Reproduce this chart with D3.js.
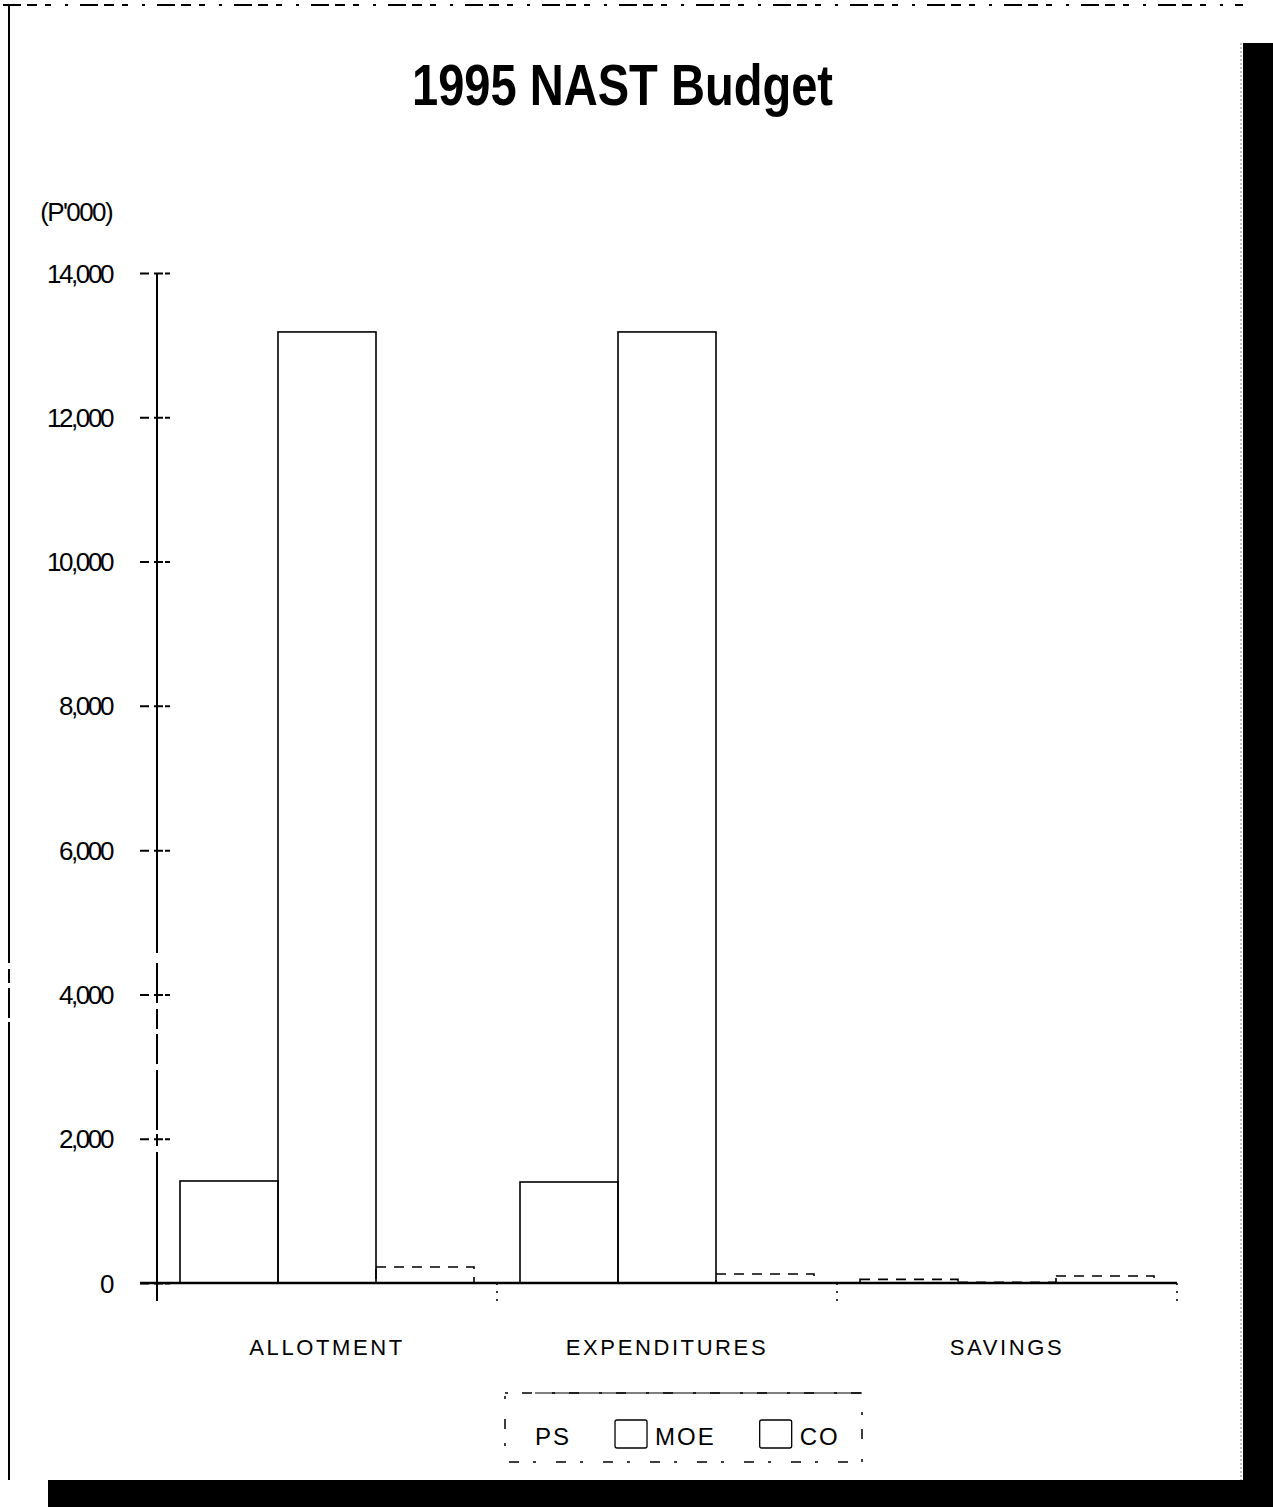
<!DOCTYPE html>
<html lang="en">
	<head>
		<meta charset="utf-8">
		<title>1995 NAST Budget</title>
		<script src="https://d3js.org/d3.v7.min.js"></script>
		<style type="text/css">
body {
    margin: 0;
    background: #fff;
}
.tick-label {
    font-family: "Liberation Sans", Arial, sans-serif;
    font-size: 26px;
    letter-spacing: -2.4px;
}
.cat-label {
    font-family: "Liberation Sans", Arial, sans-serif;
    font-size: 22px;
    letter-spacing: 2.6px;
}
.legend-text {
    font-family: "Liberation Sans", Arial, sans-serif;
    font-size: 24px;
    letter-spacing: 2px;
}
		</style>
	</head>

	<body>
		<script type="text/javascript">

			// chart values (P'000)
			var categories = ["ALLOTMENT", "EXPENDITURES", "SAVINGS"];
			var series = ["PS", "MOE", "CO"];
			var psValues = [1414, 1400, 50];
			var moeValues = [13183, 13183, 10];
			var coValues = [222, 125, 97];
			var yTicks = [0, 2000, 4000, 6000, 8000, 10000, 12000, 14000];

			//Width and height
			var w = 1273;
			var h = 1507;

			var svg = d3.select("body")
						.append("svg")
						.attr("width", w)
						.attr("height", h);

			// page frame and scan shadow
			svg.append("line")
				.attr("x1", 9).attr("y1", 5)
				.attr("x2", 9).attr("y2", 1480)
				.attr("stroke", "#000")
				.attr("stroke-width", 2)
				.attr("stroke-dasharray", "950,0,8,6,14,5,30,4");
			svg.append("line")
				.attr("x1", 3).attr("y1", 5)
				.attr("x2", 1243).attr("y2", 5)
				.attr("stroke", "#000")
				.attr("stroke-width", 2)
				.attr("stroke-dasharray", "18,6,10,8,6,14,3,12");
			svg.append("line")
				.attr("x1", 1241).attr("y1", 43)
				.attr("x2", 1241).attr("y2", 1480)
				.attr("stroke", "#888")
				.attr("stroke-width", 1)
				.attr("stroke-dasharray", "2,2");
			svg.append("rect")
				.attr("x", 1243).attr("y", 43)
				.attr("width", 30).attr("height", h - 43)
				.attr("fill", "#000");
			svg.append("rect")
				.attr("x", 48).attr("y", 1480)
				.attr("width", w - 48).attr("height", h - 1480)
				.attr("fill", "#000");

			// title (condensed bold)
			svg.append("text")
				.attr("x", 412)
				.attr("y", 105)
				.attr("textLength", 421)
				.attr("lengthAdjust", "spacingAndGlyphs")
				.style("font-family", "'Liberation Sans', Arial, sans-serif")
				.style("font-weight", "bold")
				.style("font-size", "58px")
				.text("1995 NAST Budget");

			// scales
			var y = d3.scaleLinear()
				.domain([0, 14000])
				.range([1283, 273]);

			var x0 = d3.scaleBand()
				.domain(categories)
				.range([157, 1177]);

			var x1 = d3.scaleBand()
				.domain(series)
				.range([23, x0.bandwidth() - 23]);

			// unit label
			svg.append("text")
				.attr("class", "tick-label")
				.attr("x", 112)
				.attr("y", 221)
				.attr("text-anchor", "end")
				.style("letter-spacing", "-1.6px")
				.text("(P'000)");

			// y axis
			var yAxis = d3.axisLeft(y)
				.tickValues(yTicks)
				.tickSizeInner(17)
				.tickSizeOuter(0)
				.tickPadding(28)
				.tickFormat(d3.format(","));

			var gy = svg.append("g")
				.attr("transform", "translate(157,0)")
				.call(yAxis);

			gy.select(".domain").remove();
			gy.selectAll(".tick line")
				.attr("stroke-width", 2)
				.attr("stroke-dasharray", "3,5,9");
			gy.selectAll(".tick")
				.append("line")
				.attr("x1", 0).attr("x2", 13)
				.attr("stroke", "#000")
				.attr("stroke-width", 2)
				.attr("stroke-dasharray", "6,2");
			gy.selectAll(".tick text")
				.attr("class", "tick-label")
				.attr("dy", "0.35em");
			gy.attr("font-size", null).attr("font-family", null);

			// axis spine
			svg.append("line")
				.attr("x1", 157).attr("y1", y(14000))
				.attr("x2", 157).attr("y2", y(0) + 18)
				.attr("stroke", "#000")
				.attr("stroke-width", 2)
				.attr("stroke-dasharray", "680,10,40,6,20,5,30,6,60,4,12,6");

			// bars
			var rows = categories.map(function(c, i) {
				return {cat: c, vals: [psValues[i], moeValues[i], coValues[i]]};
			});

			var groups = svg.selectAll(".group")
				.data(rows)
				.enter()
				.append("g")
				.attr("class", "group")
				.attr("transform", function(d) { return "translate(" + x0(d.cat) + ",0)"; });

			groups.selectAll("rect")
				.data(function(d) {
					return d.vals.map(function(v, j) { return {cat: d.cat, key: series[j], value: v}; });
				})
				.enter()
				.append("rect")
				.attr("x", function(d) { return x1(d.key); })
				.attr("y", function(d) { return y(d.value); })
				.attr("width", x1.bandwidth())
				.attr("height", function(d) { return y(0) - y(d.value); })
				.attr("fill", "none")
				.attr("stroke", "#000")
				.attr("stroke-width", 1.6)
				.attr("stroke-dasharray", function(d) {
					// faint, broken outlines on the small bars
					return (d.key == "CO" || d.cat == "SAVINGS") ? "10,8" : null;
				});

			// baseline
			svg.append("line")
				.attr("x1", 140).attr("y1", y(0))
				.attr("x2", 1177).attr("y2", y(0))
				.attr("stroke", "#000")
				.attr("stroke-width", 2.5);

			// category boundary ticks
			svg.selectAll(".cat-tick")
				.data(categories.concat(["end"]))
				.enter()
				.append("line")
				.attr("class", "cat-tick")
				.attr("x1", function(d, i) { return 157 + i * x0.bandwidth(); })
				.attr("x2", function(d, i) { return 157 + i * x0.bandwidth(); })
				.attr("y1", y(0))
				.attr("y2", y(0) + 18)
				.attr("stroke", "#000")
				.attr("stroke-width", 1.5)
				.attr("stroke-dasharray", "2,6");

			// category labels
			svg.selectAll(".cat-label")
				.data(categories)
				.enter()
				.append("text")
				.attr("class", "cat-label")
				.attr("x", function(d) { return x0(d) + x0.bandwidth() / 2; })
				.attr("y", 1355)
				.attr("text-anchor", "middle")
				.text(function(d) { return d; });

			// legend
			var legend = svg.append("g")
				.attr("class", "legend");

			legend.append("rect")
				.attr("x", 505).attr("y", 1393)
				.attr("width", 357).attr("height", 69)
				.attr("fill", "none")
				.attr("stroke", "#000")
				.attr("stroke-width", 1.5)
				.attr("stroke-dasharray", "3,14,10,20");
			legend.append("line")
				.attr("x1", 535).attr("y1", 1393)
				.attr("x2", 862).attr("y2", 1393)
				.attr("stroke", "#000")
				.attr("stroke-width", 1.2);

			var lx = 495;
			series.forEach(function(s, i) {
				legend.append("rect")
					.attr("x", lx).attr("y", 1420)
					.attr("width", 32).attr("height", 28)
					.attr("rx", 2)
					.attr("fill", "none")
					.attr("stroke", i == 0 ? "none" : "#000")
					.attr("stroke-width", 1.3);
				var t = legend.append("text")
					.attr("class", "legend-text")
					.attr("x", lx + 40)
					.attr("y", 1445)
					.text(s);
				lx = lx + 40 + t.node().getComputedTextLength() + 44;
			});

		</script>
	</body>
</html>
